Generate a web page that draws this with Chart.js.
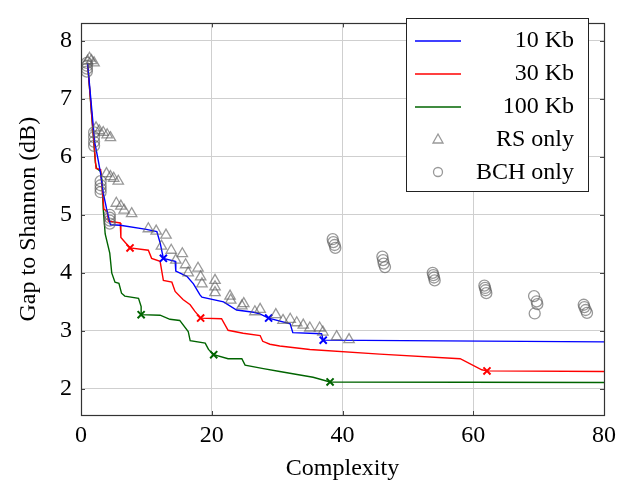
<!DOCTYPE html>
<html><head><meta charset="utf-8">
<script src="https://cdn.jsdelivr.net/npm/chart.js@4/dist/chart.umd.min.js"></script>
<style>html,body{margin:0;padding:0;background:#fff;overflow:hidden}#wrap{width:639px;height:489px}</style>
</head><body><div id="wrap"><canvas id="c" width="639" height="489"></canvas></div>
<script>
const xTicks = [0, 20, 40, 60, 80];
const yTicks = [2, 3, 4, 5, 6, 7, 8];
const seriesNames = ['10 Kb', '30 Kb', '100 Kb', 'RS only', 'BCH only'];
const xTitle = 'Complexity';
const yTitle = 'Gap to Shannon (dB)';

const blue10 = [[1.0,7.62],[2.1,6.25],[2.65,5.93],[3.0,5.71],[3.4,5.38],[3.9,5.11],[4.5,4.83],[6.0,4.82],[10.0,4.75],[11.6,4.71],[12.1,4.52],[12.6,4.25],[14.4,4.2],[14.5,4.03],[16.2,3.94],[17.2,3.81],[18.2,3.62],[18.5,3.58],[21.8,3.50],[23.8,3.36],[26.4,3.32],[27.2,3.30],[28.7,3.22],[32.0,3.12],[32.4,2.97],[36.8,2.95],[37.05,2.84],[80,2.81]];
const red30 = [[1.0,7.62],[2.3,5.8],[3.0,5.78],[3.2,5.5],[3.5,5.1],[4.0,5.06],[4.2,4.89],[6.0,4.86],[6.1,4.61],[6.8,4.52],[7.5,4.43],[10.3,4.39],[10.8,4.25],[12.1,4.20],[12.6,3.87],[13.9,3.84],[14.4,3.68],[15.6,3.54],[16.7,3.45],[17.4,3.34],[18.3,3.22],[21.5,3.21],[22.5,3.01],[24.8,2.96],[27.4,2.92],[27.8,2.82],[28.9,2.77],[30.4,2.74],[35.0,2.68],[45.7,2.60],[58.0,2.52],[61.3,2.33],[62.1,2.31],[80,2.30]];
const green100 = [[1.0,7.62],[2.2,5.9],[2.4,5.8],[3.0,5.75],[3.2,5.6],[3.4,5.1],[3.7,4.67],[4.4,4.34],[4.7,4.0],[5.2,3.84],[5.8,3.82],[6.2,3.65],[6.7,3.60],[8.8,3.56],[9.2,3.42],[9.2,3.28],[12.1,3.27],[13.6,3.20],[15.1,3.18],[16.4,2.99],[16.7,2.83],[19.0,2.79],[19.5,2.68],[20.3,2.59],[22.5,2.52],[24.6,2.52],[25.1,2.41],[27.9,2.35],[30.4,2.30],[33.5,2.24],[35.5,2.20],[38.1,2.12],[80,2.11]];

const blueMarks = [[12.6,4.25],[28.7,3.22],[37.05,2.84]];
const redMarks = [[7.5,4.43],[18.3,3.22],[62.1,2.31]];
const greenMarks = [[9.2,3.28],[20.3,2.59],[38.1,2.12]];

const rsOnly = [[1.0,7.65],[1.3,7.7],[1.6,7.66],[2.0,7.62],
 [2.3,6.5],[2.8,6.45],[3.4,6.42],[4.0,6.38],[4.5,6.33],
 [3.9,5.71],[4.5,5.66],[5.0,5.63],[5.7,5.58],
 [5.4,5.2],[6.1,5.15],[6.6,5.08],[7.75,5.02],
 [10.3,4.76],[11.5,4.72],[13.0,4.65],[12.3,4.46],[13.8,4.39],[14.5,4.22],[15.5,4.33],[16.0,4.14],[16.4,4.0],[17.9,4.08],[18.3,3.93],[18.5,3.81],
 [20.5,3.87],[20.5,3.76],[20.5,3.66],[22.8,3.60],[22.9,3.53],[24.9,3.47],[24.6,3.43],[26.6,3.33],[27.4,3.37],
 [29.8,3.28],[30.9,3.18],[32.0,3.20],[33.0,3.14],[34.0,3.10],[35.0,3.05],[36.5,3.05],[37.0,2.98],[39.1,2.90],[41.0,2.85]];
const bchOnly = [[0.9,7.62],[0.9,7.57],[0.9,7.52],[0.9,7.47],
 [2.0,6.42],[2.0,6.34],[2.0,6.26],[2.0,6.19],
 [3.0,5.58],[3.0,5.51],[3.0,5.45],[3.0,5.39],
 [4.4,5.0],[4.4,4.95],[4.4,4.9],[4.4,4.85],
 [38.5,4.58],[38.6,4.53],[38.8,4.48],[38.9,4.43],
 [46.1,4.28],[46.2,4.22],[46.3,4.16],[46.5,4.10],
 [53.8,4.0],[53.9,3.96],[54.0,3.92],[54.1,3.87],
 [61.7,3.78],[61.8,3.74],[61.9,3.70],[62.0,3.65],
 [69.3,3.60],[69.7,3.51],[69.8,3.46],[69.4,3.30],
 [76.9,3.45],[77.0,3.41],[77.2,3.36],[77.4,3.31]];

const toPts = a => a.map(p => ({x: p[0], y: p[1]}));
const BLUE = '#0000ff', RED = '#ff0000', GREEN = '#006400';
const GREY = 'rgba(90,90,90,0.62)';
const FAMILY = "'Liberation Serif', 'Times New Roman', serif";
const FONT = {family: FAMILY, size: 24};

const lineDs = (label, data, color) => ({label, data: toPts(data), borderColor: color, backgroundColor: color,
  showLine: true, pointRadius: 0, borderWidth: 1.4, tension: 0, fill: false});
const markDs = (data, color) => ({label: 'm', data: toPts(data), borderColor: color, backgroundColor: color,
  showLine: false, pointStyle: 'crossRot', pointRadius: 5, borderWidth: 2});

const frame = {
  id: 'frame',
  afterDatasetsDraw(chart) {
    const {ctx, chartArea: a, scales} = chart;
    ctx.save();
    ctx.strokeStyle = '#444'; ctx.lineWidth = 1;
    xTicks.forEach(v => { const px = Math.round(scales.x.getPixelForValue(v)) + 0.5;
      ctx.beginPath(); ctx.moveTo(px, a.bottom); ctx.lineTo(px, a.bottom - 4); ctx.moveTo(px, a.top); ctx.lineTo(px, a.top + 4); ctx.stroke(); });
    yTicks.forEach(v => { const py = Math.round(scales.y.getPixelForValue(v)) + 0.5;
      ctx.beginPath(); ctx.moveTo(a.left, py); ctx.lineTo(a.left + 4, py); ctx.moveTo(a.right, py); ctx.lineTo(a.right - 4, py); ctx.stroke(); });
    ctx.strokeStyle = '#333'; ctx.lineWidth = 1.2;
    ctx.strokeRect(Math.round(a.left) + 0.5, Math.round(a.top) + 0.5, Math.round(a.right - a.left), Math.round(a.bottom - a.top));
    // legend
    const L = 406.5, T = 18.5, W = 182, H = 173;
    ctx.fillStyle = '#fff'; ctx.fillRect(L, T, W, H);
    ctx.strokeStyle = '#222'; ctx.lineWidth = 1; ctx.strokeRect(L, T, W, H);
    const rows = [40, 73, 106, 139, 172];
    const cols = [BLUE, RED, GREEN];
    ctx.font = '24px ' + FAMILY;
    ctx.textAlign = 'right'; ctx.textBaseline = 'middle';
    seriesNames.forEach((n, i) => {
      const y = rows[i];
      if (i < 3) {
        ctx.strokeStyle = cols[i]; ctx.lineWidth = 1.5;
        ctx.beginPath(); ctx.moveTo(415, y + 1); ctx.lineTo(461, y + 1); ctx.stroke();
      } else if (i === 3) {
        ctx.strokeStyle = GREY; ctx.lineWidth = 1.3;
        ctx.beginPath(); ctx.moveTo(438, y - 5); ctx.lineTo(443, y + 4); ctx.lineTo(433, y + 4); ctx.closePath(); ctx.stroke();
      } else {
        ctx.strokeStyle = GREY; ctx.lineWidth = 1.3;
        ctx.beginPath(); ctx.arc(438, y, 4.5, 0, Math.PI * 2); ctx.stroke();
      }
      ctx.fillStyle = '#000';
      ctx.fillText(n, 574, y + 1);
    });
    ctx.restore();
  }
};

new Chart(document.getElementById('c'), {
  type: 'scatter',
  data: {datasets: [
    {label: seriesNames[3], data: toPts(rsOnly), pointStyle: 'triangle', pointRadius: 6, borderColor: GREY, backgroundColor: 'rgba(0,0,0,0)', borderWidth: 1.3, showLine: false},
    {label: seriesNames[4], data: toPts(bchOnly), pointStyle: 'circle', pointRadius: 5.5, borderColor: GREY, backgroundColor: 'rgba(0,0,0,0)', borderWidth: 1.3, showLine: false},
    markDs(blueMarks, BLUE), markDs(redMarks, RED), markDs(greenMarks, GREEN),
    lineDs(seriesNames[0], blue10, BLUE), lineDs(seriesNames[1], red30, RED), lineDs(seriesNames[2], green100, GREEN)
  ]},
  options: {
    responsive: false, devicePixelRatio: 1, animation: false,
    layout: {padding: {left: 0, right: 35, top: 7, bottom: 0}},
    plugins: {legend: {display: false}, tooltip: {enabled: false}},
    scales: {
      x: {type: 'linear', min: 0, max: 80,
        afterBuildTicks: s => { s.ticks = xTicks.map(v => ({value: v})); },
        afterFit: s => { s.height = 74; },
        ticks: {font: FONT, color: '#000', padding: 6, maxRotation: 0},
        grid: {color: '#cfcfcf', lineWidth: 1, drawTicks: false},
        border: {display: false},
        title: {display: true, text: xTitle, font: FONT, color: '#000', padding: {top: 0, bottom: 6}}},
      y: {type: 'linear', min: 1.55, max: 8.3,
        afterBuildTicks: s => { s.ticks = yTicks.map(v => ({value: v})); },
        afterFit: s => { s.width = 81; },
        ticks: {font: FONT, color: '#000', padding: 9},
        grid: {color: '#cfcfcf', lineWidth: 1, drawTicks: false},
        border: {display: false},
        title: {display: true, text: yTitle, font: FONT, color: '#000', padding: {top: 14, bottom: 0}}}
    }
  },
  plugins: [frame]
});
</script></body></html>
